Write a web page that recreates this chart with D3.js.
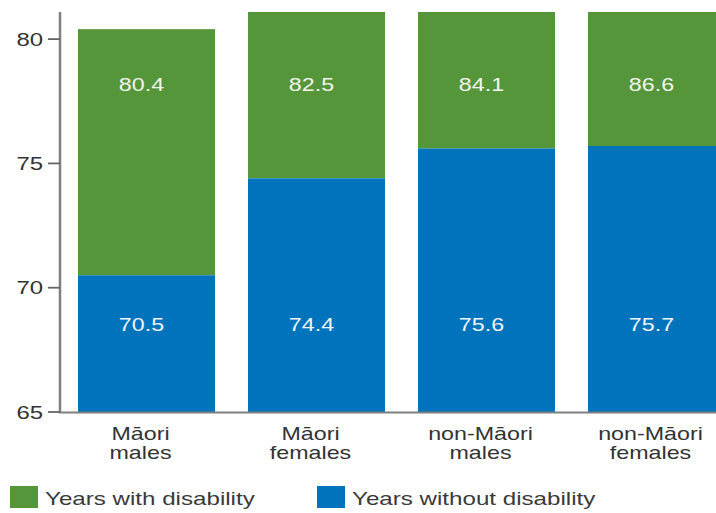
<!DOCTYPE html>
<html>
<head>
<meta charset="utf-8">
<script src="https://cdn.jsdelivr.net/npm/d3@7/dist/d3.min.js"></script>
<style>
  html, body { margin: 0; padding: 0; background: #ffffff; }
  svg { display: block; }
  text { font-family: "Liberation Sans", Arial, Helvetica, sans-serif; }
</style>
</head>
<body>
<svg id="chart" width="716" height="513"></svg>
<script>
// Life expectancy split into years without and with disability
const categories = [["Māori", "males"], ["Māori", "females"], ["non-Māori", "males"], ["non-Māori", "females"]];
const withoutDisability = [70.5, 74.4, 75.6, 75.7];   // top of blue segment
const totalExpectancy   = [80.4, 82.5, 84.1, 86.6];   // top of green segment
const yTicks = [65, 70, 75, 80];
const seriesNames = ["Years with disability", "Years without disability"];
const seriesColors = ["#56963a", "#0073bd"];

const W = 716, H = 513;
const svg = d3.select("#chart");
const textStretch = 1.33;   // wide lettering

const x = d3.scaleBand()
  .domain(categories.map((d, i) => i))
  .range([61, 742])
  .paddingInner(0.194)
  .paddingOuter(0.1);

const y = d3.scaleLinear().domain([65, 81.09]).range([412, 12]);

// plot area clip (bars are cut at the top of the axis)
svg.append("defs").append("clipPath").attr("id", "plot")
  .append("rect").attr("x", 0).attr("y", y(81.09)).attr("width", W).attr("height", y(65) - y(81.09));

const bars = svg.append("g").attr("clip-path", "url(#plot)");

// green: from the disability-free boundary up to total expectancy
bars.selectAll("rect.with").data(totalExpectancy).join("rect")
  .attr("class", "with")
  .attr("x", (d, i) => x(i))
  .attr("width", x.bandwidth())
  .attr("y", d => y(d))
  .attr("height", (d, i) => y(withoutDisability[i]) - y(d))
  .attr("fill", seriesColors[0]);

// blue: from the axis floor up to years without disability
bars.selectAll("rect.without").data(withoutDisability).join("rect")
  .attr("class", "without")
  .attr("x", (d, i) => x(i))
  .attr("width", x.bandwidth())
  .attr("y", d => y(d))
  .attr("height", d => y(65) - y(d))
  .attr("fill", seriesColors[1]);

function stretchedText(sel, px, py, anchor, sx = textStretch) {
  return sel.append("text")
    .attr("transform", `translate(${px},${py}) scale(${sx},1)`)
    .attr("text-anchor", anchor);
}

// value labels
const topLabelValue = 77.9, bottomLabelValue = 68.25;
totalExpectancy.forEach((v, i) => {
  stretchedText(svg, x(i) + x.bandwidth() / 2 - 5, y(topLabelValue), "middle")
    .attr("font-size", 17.5).attr("fill", "#f2f5ee").text(v.toFixed(1));
});
withoutDisability.forEach((v, i) => {
  stretchedText(svg, x(i) + x.bandwidth() / 2 - 5, y(bottomLabelValue), "middle")
    .attr("font-size", 17.5).attr("fill", "#f0f5fa").text(v.toFixed(1));
});

// y axis
const axisColor = "#7f7f7f";
svg.append("line")
  .attr("x1", 60).attr("x2", 60).attr("y1", y(81.09)).attr("y2", y(65) + 1)
  .attr("stroke", axisColor).attr("stroke-width", 2.5);
svg.append("line")
  .attr("x1", 59).attr("x2", W).attr("y1", y(65) + 0.5).attr("y2", y(65) + 0.5)
  .attr("stroke", axisColor).attr("stroke-width", 2);

yTicks.forEach(t => {
  svg.append("line")
    .attr("x1", 48).attr("x2", 60).attr("y1", y(t)).attr("y2", y(t))
    .attr("stroke", "#666").attr("stroke-width", 1.8);
  stretchedText(svg, 43, y(t) + 6.5, "end")
    .attr("font-size", 18).attr("fill", "#333").text(t);
});

// category labels
categories.forEach((lines, i) => {
  lines.forEach((line, k) => {
    stretchedText(svg, x(i) + x.bandwidth() / 2 - 6, 440 + k * 18.5, "middle")
      .attr("font-size", 17.5).attr("fill", "#333").text(line);
  });
});

// legend
const legendX = [10, 317];
seriesNames.forEach((name, k) => {
  svg.append("rect")
    .attr("x", legendX[k]).attr("y", 486).attr("width", 28).attr("height", 22)
    .attr("fill", seriesColors[k]);
  stretchedText(svg, legendX[k] + 35, 505, "start", 1.38)
    .attr("font-size", 17.5).attr("fill", "#3a3a3a").text(name);
});
</script>
</body>
</html>
